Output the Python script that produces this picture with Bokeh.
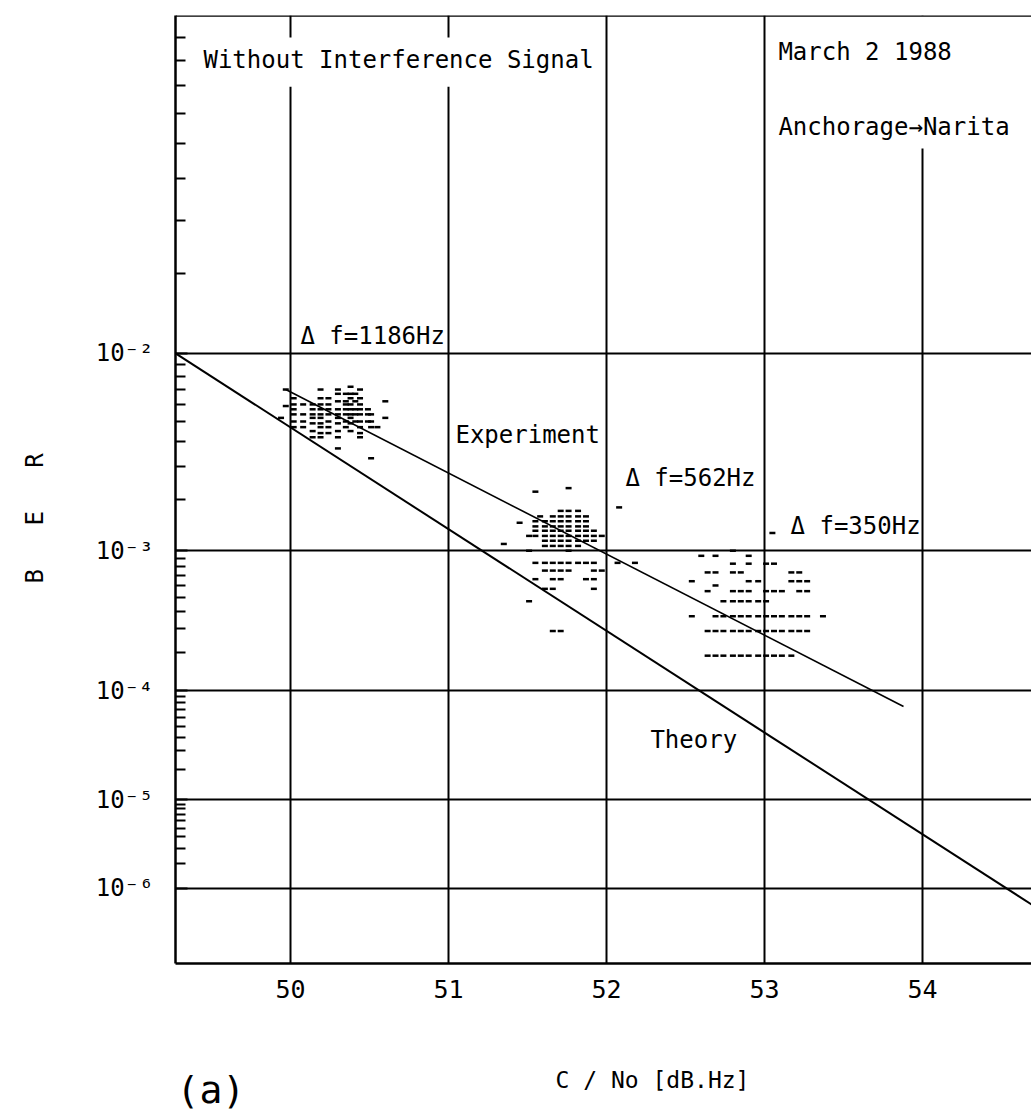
import numpy as np
from bokeh.plotting import figure
from bokeh.layouts import column
from bokeh.models import Range1d, FixedTicker, Label, BoxAnnotation, Span
from bokeh.core.properties import value
from bokeh.embed import file_html
from bokeh.resources import INLINE

FONT = "DejaVu Sans Mono"
NB = "\u00a0"

# ---------------- data ----------------
x_ticks = [50, 51, 52, 53, 54]
ber_major = [1e-2, 1e-3, 1e-4, 1e-5, 1e-6]
ber_major_labels = ["10⁻²", "10⁻³", "10⁻⁴", "10⁻⁵", "10⁻⁶"]
minor_mantissas = [2, 3, 4, 5, 6, 7, 8, 9]
minor_decades = [2, 3, 4, 5, 6]

theory_x = [49.27, 54.69]
theory_ber = [1.0e-2, 6.3e-7]

experiment_x = [49.97, 53.88]
experiment_ber = [7.0e-3, 7.4e-5]

# delta f = 1186 Hz cluster (x columns, BER values per column)
cols_1186 = [49.94, 49.97, 50.02, 50.08, 50.14, 50.19, 50.24, 50.30,
             50.35, 50.38, 50.41, 50.44, 50.49, 50.51, 50.55, 50.60]
ber_1186 = [
    [5.2e-3],
    [7.0e-3, 5.9e-3],
    [6.4e-3, 6.0e-3, 5.7e-3, 5.4e-3, 5.0e-3, 4.7e-3],
    [6.0e-3, 5.4e-3, 5.0e-3, 4.7e-3],
    [6.0e-3, 5.7e-3, 5.4e-3, 5.2e-3, 4.9e-3, 4.5e-3, 4.2e-3],
    [7.0e-3, 6.4e-3, 6.0e-3, 5.7e-3, 5.4e-3, 5.2e-3, 4.9e-3, 4.7e-3, 4.4e-3, 4.2e-3],
    [6.4e-3, 6.0e-3, 5.7e-3, 5.4e-3, 5.0e-3, 4.7e-3, 4.4e-3],
    [7.0e-3, 6.7e-3, 6.2e-3, 5.7e-3, 5.4e-3, 5.2e-3, 4.9e-3, 4.5e-3, 4.2e-3, 3.7e-3],
    [6.7e-3, 6.2e-3, 6.0e-3, 5.7e-3, 5.4e-3, 5.0e-3, 4.7e-3],
    [7.2e-3, 6.7e-3, 6.4e-3, 6.0e-3, 5.7e-3, 5.4e-3, 5.2e-3, 4.9e-3, 4.5e-3],
    [6.7e-3, 6.2e-3, 5.7e-3, 5.4e-3, 5.0e-3],
    [7.0e-3, 6.4e-3, 6.0e-3, 5.7e-3, 5.4e-3, 5.0e-3, 4.7e-3, 4.4e-3, 4.2e-3],
    [5.7e-3, 5.4e-3, 5.0e-3],
    [5.4e-3, 5.0e-3, 4.7e-3, 3.3e-3],
    [4.7e-3],
    [6.2e-3, 5.2e-3],
]

# delta f = 562 Hz cluster
cols_562 = [51.35, 51.45, 51.51, 51.55, 51.58, 51.61, 51.66, 51.71, 51.76,
            51.82, 51.87, 51.92, 51.97, 52.07, 52.08, 52.18]
ber_562 = [
    [1.1e-3],
    [1.47e-3],
    [1.23e-3, 1.0e-3, 4.7e-4],
    [2.2e-3, 1.5e-3, 1.4e-3, 1.32e-3, 1.23e-3, 8.4e-4, 6.6e-4],
    [1.6e-3],
    [1.5e-3, 1.4e-3, 1.32e-3, 1.23e-3, 1.15e-3, 1.07e-3, 8.4e-4, 7.5e-4, 5.7e-4],
    [1.6e-3, 1.5e-3, 1.4e-3, 1.32e-3, 1.23e-3, 1.15e-3, 1.07e-3, 8.4e-4, 7.5e-4, 6.6e-4, 5.7e-4, 2.9e-4],
    [1.72e-3, 1.6e-3, 1.5e-3, 1.4e-3, 1.32e-3, 1.23e-3, 1.15e-3, 1.07e-3, 8.4e-4, 7.5e-4, 6.6e-4, 2.9e-4],
    [2.3e-3, 1.72e-3, 1.6e-3, 1.5e-3, 1.4e-3, 1.32e-3, 1.23e-3, 1.15e-3, 1.07e-3, 1.0e-3, 8.4e-4, 7.5e-4],
    [1.72e-3, 1.6e-3, 1.5e-3, 1.4e-3, 1.32e-3, 1.23e-3, 1.15e-3, 1.07e-3, 8.4e-4],
    [1.6e-3, 1.5e-3, 1.4e-3, 1.32e-3, 1.23e-3, 1.15e-3, 8.4e-4, 6.6e-4],
    [1.32e-3, 1.23e-3, 1.15e-3, 8.4e-4, 7.5e-4, 6.6e-4, 5.7e-4],
    [1.23e-3, 7.5e-4],
    [8.4e-4],
    [1.8e-3],
    [8.4e-4],
]

# delta f = 350 Hz cluster
cols_350 = [52.54, 52.60, 52.64, 52.69, 52.74, 52.80, 52.85, 52.90, 52.96,
            53.01, 53.05, 53.06, 53.11, 53.17, 53.22, 53.27, 53.37]
ber_350 = [
    [6.4e-4, 3.7e-4],
    [9.3e-4],
    [7.3e-4, 5.5e-4, 2.9e-4, 1.9e-4],
    [9.3e-4, 7.3e-4, 6.0e-4, 3.7e-4, 2.9e-4, 1.9e-4],
    [4.7e-4, 3.7e-4, 2.9e-4, 1.9e-4],
    [1.0e-3, 8.3e-4, 7.3e-4, 5.5e-4, 4.7e-4, 3.7e-4, 2.9e-4, 1.9e-4],
    [7.3e-4, 5.5e-4, 4.7e-4, 3.7e-4, 2.9e-4, 1.9e-4],
    [9.3e-4, 8.3e-4, 6.4e-4, 5.5e-4, 4.7e-4, 3.7e-4, 2.9e-4, 1.9e-4],
    [6.4e-4, 4.7e-4, 3.7e-4, 2.9e-4, 1.9e-4],
    [8.3e-4, 5.5e-4, 4.7e-4, 3.7e-4, 2.9e-4, 1.9e-4],
    [1.28e-3],
    [8.3e-4, 5.5e-4, 3.7e-4, 2.9e-4, 1.9e-4],
    [5.5e-4, 3.7e-4, 2.9e-4, 1.9e-4],
    [7.3e-4, 6.4e-4, 3.7e-4, 2.9e-4, 1.9e-4],
    [7.3e-4, 6.4e-4, 5.5e-4, 3.7e-4, 2.9e-4],
    [6.4e-4, 5.5e-4, 3.7e-4, 2.9e-4],
    [3.7e-4],
]


# ---------------- helpers ----------------
def tv(ber):
    """BER axis transform: position proportional to log(-log10 BER)."""
    return -np.log(-np.log10(np.asarray(ber, dtype=float)))


def flatten(cols, bers):
    xs, ys = [], []
    for c, bl in zip(cols, bers):
        for b in bl:
            xs.append(c)
            ys.append(b)
    return xs, ys


# ---------------- main figure ----------------
p = figure(width=1031, height=1050,
           x_range=Range1d(49.272, 54.69),
           y_range=Range1d(float(tv(1e-7)), float(tv(1e-1))),
           output_backend="svg", toolbar_location=None, title=None,
           min_border_left=175, min_border_right=0,
           min_border_top=15, min_border_bottom=87)
p.outline_line_color = None
p.background_fill_color = "white"
p.border_fill_color = "white"

major_v = [float(tv(b)) for b in ber_major]
minor_v = [float(tv(k * 10.0 ** (-n))) for n in minor_decades for k in minor_mantissas]
yticker = FixedTicker(ticks=major_v, minor_ticks=minor_v)
p.yaxis.ticker = yticker
p.ygrid.ticker = yticker
p.yaxis.major_label_overrides = {v: lab for v, lab in zip(major_v, ber_major_labels)}
p.yaxis.major_tick_in = 12
p.yaxis.major_tick_out = 0
p.yaxis.minor_tick_in = 10
p.yaxis.minor_tick_out = 0
p.yaxis.major_tick_line_width = 2
p.yaxis.minor_tick_line_width = 2
p.yaxis.axis_line_width = 2.5
p.yaxis.major_label_text_font = FONT
p.yaxis.major_label_text_font_size = "24px"
p.yaxis.major_label_text_color = "black"
p.yaxis.major_label_standoff = 22
p.yaxis.axis_label = "B" + NB * 3 + "E" + NB * 3 + "R" + NB * 4
p.yaxis.axis_label_text_font = FONT
p.yaxis.axis_label_text_font_size = "24px"
p.yaxis.axis_label_text_font_style = "normal"
p.yaxis.axis_label_text_color = "black"
p.yaxis.axis_label_standoff = 44

xticker = FixedTicker(ticks=x_ticks)
p.xaxis.ticker = xticker
p.xgrid.ticker = xticker
p.xaxis.major_tick_in = 0
p.xaxis.major_tick_out = 0
p.xaxis.minor_tick_line_color = None
p.xaxis.axis_line_width = 2.5
p.xaxis.major_label_text_font = FONT
p.xaxis.major_label_text_font_size = "25px"
p.xaxis.major_label_text_color = "black"
p.xaxis.major_label_standoff = 16

p.xgrid.grid_line_color = "black"
p.xgrid.grid_line_width = 2
p.ygrid.grid_line_color = "black"
p.ygrid.grid_line_width = 1.8

# lines
p.line(theory_x, tv(theory_ber), line_color="black", line_width=2)
p.line(experiment_x, tv(experiment_ber), line_color="black", line_width=1.6)

# measured points
for cols, bers in ((cols_1186, ber_1186), (cols_562, ber_562), (cols_350, ber_350)):
    xs, ys = flatten(cols, bers)
    p.scatter(xs, tv(ys), marker="dash", size=6, line_width=2.5, line_color="black")

# white areas behind the top texts
p.add_layout(BoxAnnotation(left=49.43, right=51.96, top=-0.045, bottom=-0.146,
                           fill_color="white", fill_alpha=1.0, line_color=None))
p.add_layout(BoxAnnotation(left=53.02, right=54.69, top=0.0, bottom=-0.273,
                           fill_color="white", fill_alpha=1.0, line_color=None))

# top border
p.add_layout(Span(location=0.0, dimension="width", line_color="black", line_width=2.5))


def add_label(x, y, text, size="24px"):
    p.add_layout(Label(x=x, y=y, text=text, text_font=FONT, text_font_size=size,
                       text_color="black", text_align="left", text_baseline="middle"))


add_label(49.449, -0.092, "Without Interference Signal")
add_label(53.088, -0.074, "March 2 1988")
add_label(53.088, -0.228, "Anchorage→Narita")
add_label(50.063, -0.657, "Δ f=1186Hz")
add_label(51.044, -0.862, "Experiment")
add_label(52.12, -0.950, "Δ f=562Hz")
add_label(53.165, -1.047, "Δ f=350Hz")
add_label(52.278, -1.488, "Theory")

# ---------------- strip below: panel tag and x-axis title ----------------
# (its frame is aligned with the main frame, which spans page pixels 175..1031)
q = figure(width=1031, height=70, x_range=Range1d(175, 1031), y_range=Range1d(0, 70),
           output_backend="svg", toolbar_location=None, title=None,
           x_axis_location=None, y_axis_location=None,
           min_border_left=175, min_border_right=0, min_border_top=0, min_border_bottom=0)
q.outline_line_color = None
q.xgrid.visible = False
q.ygrid.visible = False
q.background_fill_color = "white"
q.border_fill_color = "white"
q.text(x=[176], y=[31], text=["(a)"], text_font=value(FONT), text_font_size="38px",
       text_align="left", text_baseline="middle", text_color="black")
q.text(x=[652], y=[41], text=["C / No [dB.Hz]"], text_font=value(FONT), text_font_size="23px",
       text_align="center", text_baseline="middle", text_color="black")

layout = column(p, q, spacing=0)
open("out.html", "w").write(file_html(layout, INLINE))
